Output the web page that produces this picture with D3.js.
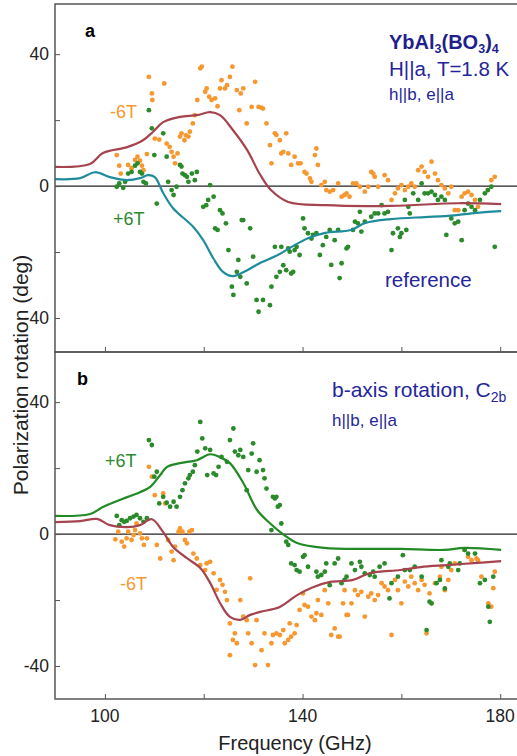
<!DOCTYPE html>
<html>
<head>
<meta charset="utf-8">
<script src="https://cdn.jsdelivr.net/npm/d3@7"></script>
<style>
  body { margin: 0; background: #fff; }
  svg text { font-family: "Liberation Sans", Arial, sans-serif; }
</style>
</head>
<body>
<script>
// panel a : H||a, dots = measured, lines = reference
var dotsA_minus = [
  [102.4,9.4],[102.9,6.2],[103.2,3.8],[104.7,6.4],[105.4,5.4],[106.1,7.9],[106.6,8.9],[107.1,7.7],
  [107.5,6.2],[107.8,4.8],[108.5,9.7],[108.9,33.1],[109.5,28.1],[109.6,26.1],[110.1,14.4],[111.0,14.1],
  [112.0,31.1],[112.5,12.9],[113.1,11.9],[113.5,10.4],[113.9,8.9],[114.2,6.9],[114.7,9.9],[115.2,15.0],
  [115.5,16.0],[116.1,13.9],[116.4,15.4],[116.9,15.0],[117.2,16.5],[117.8,19.0],[118.2,21.5],[118.7,26.1],
  [119.3,35.7],[119.6,36.2],[120.3,28.6],[120.6,29.6],[121.1,27.1],[121.6,26.1],[122.3,26.6],[122.8,24.2],
  [123.3,29.6],[123.6,32.1],[124.3,29.6],[124.7,30.6],[125.3,33.1],[125.8,36.2],[126.7,29.1],[127.2,23.0],
  [127.5,28.1],[128.0,29.6],[128.7,19.0],[129.7,24.0],[130.4,31.6],[131.1,24.0],[131.6,23.8],[132.0,23.5],
  [132.7,19.0],[133.4,12.4],[133.7,6.9],[134.4,16.0],[134.7,15.5],[135.4,13.9],[135.7,9.9],[136.1,10.4],
  [136.7,16.0],[137.1,9.9],[137.7,6.4],[138.4,8.9],[139.1,6.9],[139.6,6.9],[140.4,4.3],[140.8,3.8],
  [141.5,2.3],[141.8,1.3],[142.5,9.4],[142.8,11.4],[143.1,6.4],[143.8,0.3],[144.5,1.3],[144.8,-1.2],
  [145.5,-1.7],[146.2,-1.2],[147.2,0.8],[147.9,-3.2],[148.5,-2.7],[148.9,-2.2],[149.5,-3.2],[150.2,0.8],
  [150.9,0.8],[151.6,-0.2],[152.6,-1.7],[153.3,-0.2],[153.9,4.3],[154.3,3.8],[154.6,2.8],[155.3,-0.2],
  [156.6,3.3],[157.3,1.8],[158.0,-4.2],[158.7,-2.2],[159.3,-0.7],[160.0,0.3],[160.7,-1.2],[161.4,-0.2],
  [162.0,0.8],[162.7,-0.2],[163.4,4.8],[164.1,5.9],[164.7,4.3],[165.4,2.8],[166.1,7.4],[166.8,3.8],
  [167.4,1.8],[168.1,0.3],[168.8,-0.7],[169.5,-2.2],[170.1,-0.2],[170.8,-7.3],[171.5,-7.3],[172.2,-3.2],
  [172.8,-2.2],[173.5,-1.7],[174.2,-2.7],[174.9,-4.2],[175.5,-6.3],[177.5,-1.2],[178.2,1.8],[178.9,2.8]
];
var dotsA_plus = [
  [102.4,-0.2],[102.9,0.8],[103.7,-0.5],[104.1,1.3],[104.7,3.8],[105.4,4.3],[106.1,6.2],[106.6,6.9],
  [107.1,4.3],[107.5,3.8],[107.8,1.3],[108.3,0.8],[108.9,23.0],[109.5,17.5],[110.0,9.4],[110.5,-5.3],
  [111.8,16.0],[112.5,8.9],[112.8,1.3],[113.5,-1.2],[113.9,-2.7],[114.5,-0.2],[115.2,6.4],[115.5,5.9],
  [115.7,3.8],[116.2,3.3],[116.6,2.8],[116.9,1.3],[117.6,3.8],[118.2,1.8],[118.6,4.3],[119.9,-6.3],
  [120.5,-5.8],[120.9,-4.2],[121.3,0.3],[122.0,-3.2],[122.3,-12.8],[122.8,-13.3],[123.3,-7.3],[123.8,-8.3],
  [124.5,-11.3],[125.0,-19.4],[125.7,-30.5],[126.0,-33.0],[126.7,-26.0],[127.0,-22.4],[127.4,-27.5],[127.7,-10.3],
  [128.0,-10.3],[128.7,-29.5],[129.4,-12.8],[130.0,-21.4],[130.7,-34.5],[131.1,-38.1],[132.0,-34.5],[133.4,-36.1],
  [133.7,-30.5],[134.4,-18.4],[134.7,-27.5],[135.4,-26.0],[135.7,-18.4],[136.1,-24.0],[136.7,-25.5],[137.1,-18.9],
  [137.4,-19.9],[137.7,-26.5],[138.1,-26.0],[138.4,-19.4],[138.8,-18.4],[139.4,-20.9],[140.1,-9.8],[140.4,-12.8],
  [141.1,-14.3],[141.8,-15.9],[142.1,-14.8],[142.8,-14.3],[143.5,-20.9],[144.1,-17.9],[144.8,-15.4],[145.5,-13.3],
  [145.8,-23.9],[146.5,-16.4],[147.2,-13.3],[147.5,-27.9],[147.9,-23.4],[148.9,-18.9],[149.2,-18.4],[150.2,-13.3],
  [150.6,-10.8],[151.2,-11.3],[151.6,-7.8],[151.9,-13.8],[152.6,-10.8],[153.9,-9.3],[154.6,-8.3],[155.3,-8.3],
  [156.0,-5.8],[156.6,-8.3],[157.3,-7.8],[158.0,-19.4],[158.3,-14.3],[159.3,-12.8],[159.7,-15.4],[160.0,-14.3],
  [160.7,-4.2],[161.0,-13.3],[161.4,-6.3],[161.7,-8.3],[162.4,-2.2],[163.4,-4.2],[164.1,0.8],[164.7,-2.2],
  [165.4,-2.2],[166.1,-1.7],[166.8,-2.7],[167.4,-4.2],[168.1,-3.2],[168.8,-4.2],[169.1,-14.8],[170.1,-9.8],
  [170.8,-11.3],[171.5,-10.8],[172.2,-16.4],[172.8,-7.3],[173.5,-5.3],[174.2,-6.3],[174.9,-7.3],[175.9,-4.2],
  [176.9,-2.2],[177.5,-1.2],[178.2,-0.2],[178.9,-18.4]
];
var lineA_minus = [
  [89.9,5.8],[97.0,6.7],[99.6,10],[104.5,11.8],[107.7,13.9],[109.7,16.4],[111.8,19.4],[115.2,21],
  [118.6,21.5],[121.3,22.4],[123.3,21.5],[125.9,17],[128.8,10.9],[131.4,3.5],[133.6,-1.2],[137.1,-4.8],
  [144.6,-5.8],[157.9,-6],[171.5,-5.2],[180.2,-5.5]
];
var lineA_plus = [
  [89.9,2.1],[95.0,2.4],[98.0,4.2],[101.0,2.7],[104.5,1.8],[107.1,2.4],[108.7,3.3],[110.1,2.7],
  [111.8,-2.1],[113.8,-6.7],[117.9,-12.4],[119.9,-16.4],[121.9,-21.8],[123.9,-26],[125.9,-27.3],[128.8,-25.5],
  [131.4,-23.3],[135.0,-20.9],[137.7,-18.5],[141.1,-15.8],[144.6,-14.2],[149.8,-13.3],[152.7,-11.2],[157.9,-10],
  [164.8,-9.4],[168.9,-9.1],[172.9,-8.5],[176.9,-7.9],[180.2,-7.6]
];

// panel b : b-axis rotation
var dotsB_minus = [
  [102.1,-1.6],[102.7,0.7],[103.4,-2.3],[103.9,-3.8],[104.4,-1.3],[104.7,0.7],[105.4,-1.8],[105.8,-0.3],
  [106.1,1.2],[106.4,3.2],[107.1,0.2],[107.5,-1.3],[107.9,-3.3],[108.5,-1.3],[108.9,20.4],[109.5,17.4],
  [110.1,11.8],[110.5,-3.3],[111.2,-7.4],[111.8,12.3],[112.2,9.3],[112.8,-1.8],[113.5,-5.3],[113.9,-7.9],
  [114.2,-3.8],[114.9,0.7],[115.2,1.7],[115.7,0.7],[116.2,-1.8],[116.6,-2.8],[117.1,0.7],[117.6,1.2],
  [117.9,-5.9],[118.6,-7.4],[119.3,-9.4],[120.3,-10.9],[120.6,-8.9],[121.3,-8.4],[122.0,-11.9],[122.6,-16.9],
  [123.3,-13.9],[123.8,-15.4],[124.3,-17.5],[124.7,-20.0],[125.3,-27.1],[125.3,-36.7],[125.9,-32.1],[126.3,-30.1],
  [126.7,-33.1],[127.4,-20.0],[128.0,-25.0],[128.7,-26.1],[129.0,-30.1],[129.4,-13.4],[129.7,-33.1],[130.4,-39.7],
  [130.7,-26.1],[131.7,-35.2],[132.3,-30.1],[133.0,-39.7],[133.7,-33.1],[134.0,-30.6],[134.7,-30.1],[135.4,-30.6],
  [136.1,-29.1],[136.4,-33.1],[137.1,-32.1],[137.4,-27.1],[137.7,-31.1],[138.4,-30.1],[138.8,-27.6],[139.4,-23.0],
  [140.1,-18.0],[140.4,-21.5],[141.1,-22.0],[141.8,-25.0],[142.5,-26.1],[142.8,-24.0],[143.1,-20.0],[143.8,-24.5],
  [144.5,-17.0],[145.2,-21.0],[145.8,-30.6],[146.5,-28.6],[147.2,-31.1],[147.5,-31.1],[148.2,-21.0],[148.5,-17.0],
  [148.9,-24.5],[149.2,-24.5],[149.9,-21.0],[150.6,-17.0],[151.2,-18.5],[151.9,-17.5],[152.6,-25.0],[153.3,-19.0],
  [153.9,-18.0],[154.6,-20.0],[155.3,-18.5],[156.0,-14.9],[156.6,-15.9],[157.3,-17.0],[158.0,-30.6],[158.7,-13.9],
  [159.3,-17.0],[160.0,-21.0],[160.7,-14.4],[161.4,-15.9],[162.0,-12.9],[162.7,-14.9],[163.4,-17.0],[164.1,-13.9],
  [164.7,-15.4],[165.1,-30.1],[165.7,-18.0],[166.1,-21.0],[166.8,-14.9],[167.8,-12.9],[168.1,-9.9],[168.8,-17.0],
  [169.5,-13.9],[170.1,-10.9],[170.8,-8.9],[172.8,-4.8],[173.5,-6.9],[174.2,-7.9],[175.2,-7.4],[175.5,-7.9],
  [176.2,-12.9],[177.6,-21.0],[178.2,-22.0],[178.6,-16.4],[178.9,-11.4]
];
var dotsB_plus = [
  [102.4,5.5],[102.9,2.7],[103.4,4.2],[103.9,3.7],[104.4,4.0],[105.1,4.8],[105.8,5.3],[106.4,5.8],
  [107.1,4.8],[107.8,3.7],[108.5,4.8],[108.9,28.5],[109.5,27.0],[110.0,17.4],[110.5,18.9],[111.0,9.3],
  [111.8,11.3],[112.5,9.5],[113.2,8.3],[113.9,9.8],[114.5,8.3],[115.2,11.3],[115.7,13.3],[116.2,15.4],
  [116.9,16.9],[117.2,17.9],[117.8,18.9],[118.2,20.9],[118.7,25.0],[119.3,34.0],[119.7,29.0],[120.3,26.0],
  [120.7,17.9],[121.3,25.5],[122.0,18.4],[122.5,17.9],[123.0,20.4],[123.6,23.4],[124.7,21.9],[125.3,28.5],
  [126.0,32.0],[126.3,25.0],[127.0,23.9],[127.4,25.5],[128.0,23.4],[128.7,13.3],[129.0,19.4],[129.7,24.4],
  [130.0,27.5],[130.7,18.9],[131.3,22.4],[132.0,19.4],[132.3,16.9],[132.7,13.8],[133.7,1.2],[134.0,11.3],
  [134.4,10.8],[134.7,11.3],[135.0,8.3],[135.4,8.8],[135.7,3.2],[136.7,-2.3],[137.1,-3.3],[137.7,-8.9],
  [138.4,-9.4],[138.8,-10.9],[139.4,-11.4],[140.1,-6.9],[140.4,-6.4],[141.1,-9.9],[142.8,-11.4],[143.1,-12.9],
  [143.8,-12.4],[144.5,-11.4],[144.8,-8.9],[145.5,-15.5],[146.5,-8.9],[147.2,-7.4],[147.9,-14.9],[148.5,-13.9],
  [148.9,-12.9],[149.9,-8.9],[150.6,-10.9],[151.6,-8.4],[151.9,-9.9],[152.6,-11.9],[153.6,-12.4],[154.3,-11.4],
  [154.6,-12.9],[155.6,-9.9],[156.6,-8.9],[157.6,-19.5],[158.0,-14.9],[159.3,-12.9],[160.3,-6.4],[160.7,-10.9],
  [161.7,-10.9],[162.7,-9.9],[164.1,-12.9],[165.1,-29.1],[165.7,-20.5],[166.1,-21.0],[167.1,-14.9],[167.8,-13.9],
  [168.1,-7.9],[168.8,-16.5],[169.5,-9.9],[169.8,-8.9],[171.5,-10.9],[171.8,-8.9],[172.8,-4.8],[173.5,-5.9],
  [174.9,-5.9],[175.9,-14.9],[176.9,-13.9],[177.6,-22.0],[177.9,-26.6],[178.6,-12.9]
];
var lineB_plus = [
  [89.9,5.5],[97.0,6.1],[99.6,8.2],[104.5,11.2],[107.1,12.7],[109.1,14.2],[111.2,17.9],[112.5,20.3],
  [115.2,21.5],[118.6,22.4],[121.3,24.2],[123.3,23.3],[125.3,21.5],[128.0,15.5],[130.8,7.3],[133.4,3.3],
  [136.3,-0.3],[138.9,-2.7],[144.4,-4.2],[153.1,-4.5],[159.8,-4.5],[168.7,-4.8],[172.8,-4.2],[180.2,-4.8]
];
var lineB_minus = [
  [89.9,3.6],[95.0,3.9],[98.4,4.6],[101.0,2.7],[104.5,2.1],[107.1,2.7],[109.5,4.5],[111.8,0.6],
  [113.8,-3.9],[116.6,-7.3],[119.3,-10.3],[121.3,-14.8],[123.3,-20.9],[125.3,-25.1],[127.4,-26],[129.4,-24.5],
  [131.4,-23.6],[135.4,-22.1],[138.9,-18.5],[142.1,-16.1],[145.6,-14.5],[150.2,-13.9],[153.7,-11.8],[159.8,-10.9],
  [163.9,-10],[169.3,-9.4],[174.6,-8.8],[180.2,-8.2]
];

var xTicks = [100, 120, 140, 160, 180];
var yTicks = [-40, -20, 0, 20, 40];

var W = 517, H = 756;
var orange = "#f6982f", green = "#2b8a2b", maroon = "#a5434e", teal = "#1f8c9c", greenLine = "#218a24", navy = "#25259a";

var svg = d3.select("body").append("svg").attr("width", W).attr("height", H);

var x = d3.scaleLinear().domain([89.9, 183.4]).range([55, 517]);
var yA = d3.scaleLinear().domain([-50.3, 55.2]).range([352, 4]);
var yB = d3.scaleLinear().domain([-50, 55.2]).range([699, 352]);

var line = function(y) {
  return d3.line().x(function(d) { return x(d[0]); }).y(function(d) { return y(d[1]); })
    .curve(d3.curveCatmullRom.alpha(0.5));
};

function panel(y, top, bottom, dots, lines) {
  var g = svg.append("g");
  // zero line
  g.append("line").attr("x1", 55).attr("x2", W).attr("y1", y(0)).attr("y2", y(0))
    .attr("stroke", "#222").attr("stroke-width", 1.2);
  dots.forEach(function(s) {
    g.selectAll(null).data(s.data).enter().append("circle")
      .attr("cx", function(d) { return x(d[0]); })
      .attr("cy", function(d) { return y(d[1]); })
      .attr("r", 2.4).attr("fill", s.color);
  });
  lines.forEach(function(s) {
    g.append("path").datum(s.data).attr("d", line(y))
      .attr("fill", "none").attr("stroke", s.color).attr("stroke-width", 2.2);
  });
  // frame
  g.append("path").attr("d", "M" + W + "," + top + "H55V" + bottom + "H" + W)
    .attr("fill", "none").attr("stroke", "#555").attr("stroke-width", 1.5);

  var ya = g.append("g").attr("transform", "translate(55,0)")
    .call(d3.axisLeft(y).tickValues(yTicks).tickSize(-5).tickPadding(6)
      .tickFormat(function(d) { return d % 40 === 0 ? String(d) : ""; }));
  ya.select(".domain").remove();
  ya.selectAll("line").attr("stroke", "#555");
  ya.selectAll("text").attr("font-size", 17.5).attr("fill", "#222")
    .attr("font-family", "Liberation Sans, Arial, sans-serif");

  var xa = g.append("g").attr("transform", "translate(0," + bottom + ")")
    .call(d3.axisBottom(x).tickValues(xTicks).tickSize(-5).tickFormat(""));
  xa.select(".domain").remove();
  xa.selectAll("line").attr("stroke", "#555");
  return g;
}

var gA = panel(yA, 4, 352,
  [{data: dotsA_minus, color: orange}, {data: dotsA_plus, color: green}],
  [{data: lineA_minus, color: maroon}, {data: lineA_plus, color: teal}]);
var gB = panel(yB, 352, 699,
  [{data: dotsB_minus, color: orange}, {data: dotsB_plus, color: green}],
  [{data: lineB_plus, color: greenLine}, {data: lineB_minus, color: maroon}]);

// bottom tick labels
svg.append("g").selectAll("text").data(xTicks.filter(function(d) { return d % 40 === 20; }))
  .enter().append("text")
  .attr("x", function(d) { return x(d); }).attr("y", 722)
  .attr("text-anchor", "middle").attr("font-size", 17.5).attr("fill", "#222")
  .text(function(d) { return d; });

svg.append("text").attr("x", 295).attr("y", 750).attr("text-anchor", "middle")
  .attr("font-size", 20).attr("fill", "#222").text("Frequency (GHz)");
svg.append("text").attr("transform", "translate(28,375) rotate(-90)").attr("text-anchor", "middle")
  .attr("font-size", 21).attr("fill", "#222").text("Polarization rotation (deg)");

// panel letters
svg.append("text").attr("x", 85).attr("y", 37).attr("font-size", 18).attr("font-weight", "bold").text("a");
svg.append("text").attr("x", 77).attr("y", 385).attr("font-size", 18).attr("font-weight", "bold").text("b");

// panel a annotations
var t1 = svg.append("text").attr("x", 389).attr("y", 49).attr("font-size", 20)
  .attr("font-weight", "bold").attr("fill", "#1f1f8e");
t1.append("tspan").text("YbAl");
t1.append("tspan").attr("font-size", 12.5).attr("dy", 4).text("3");
t1.append("tspan").attr("dy", -4).text("(BO");
t1.append("tspan").attr("font-size", 12.5).attr("dy", 4).text("3");
t1.append("tspan").attr("dy", -4).text(")");
t1.append("tspan").attr("font-size", 12.5).attr("dy", 4).text("4");
svg.append("text").attr("x", 389).attr("y", 76).attr("font-size", 20.5).attr("fill", navy).text("H||a, T=1.8 K");
svg.append("text").attr("x", 389).attr("y", 100).attr("font-size", 17).attr("fill", navy).text("h||b, e||a");
svg.append("text").attr("x", 385).attr("y", 287).attr("font-size", 20.5).attr("fill", navy).text("reference");
svg.append("text").attr("x", 110).attr("y", 118).attr("font-size", 18).attr("fill", orange).text("-6T");
svg.append("text").attr("x", 113).attr("y", 225).attr("font-size", 18).attr("fill", green).text("+6T");

// panel b annotations
var t2 = svg.append("text").attr("x", 332).attr("y", 397).attr("font-size", 21).attr("fill", navy);
t2.append("tspan").text("b-axis rotation, C");
t2.append("tspan").attr("font-size", 14).attr("dy", 5).text("2b");
svg.append("text").attr("x", 332).attr("y", 426).attr("font-size", 17).attr("fill", navy).text("h||b, e||a");
svg.append("text").attr("x", 105).attr("y", 467).attr("font-size", 18).attr("fill", green).text("+6T");
svg.append("text").attr("x", 120).attr("y", 590).attr("font-size", 18).attr("fill", orange).text("-6T");
</script>
</body>
</html>
